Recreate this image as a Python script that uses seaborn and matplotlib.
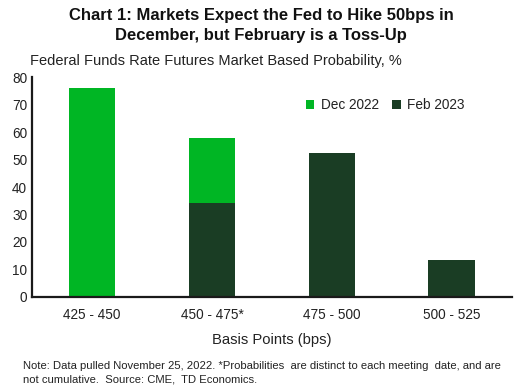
import matplotlib
matplotlib.use("Agg")
import matplotlib.pyplot as plt
import seaborn as sns
import pandas as pd

categories = ["425 - 450", "450 - 475*", "475 - 500", "500 - 525"]
dec_2022 = [76, 58, 0, 0]
feb_2023 = [0, 34, 52.5, 13.5]
series_names = ["Dec 2022", "Feb 2023"]
colors = ["#00B624", "#1A3D24"]

df = pd.DataFrame({
    "cat": categories * 2,
    "val": dec_2022 + feb_2023,
    "series": [series_names[0]] * 4 + [series_names[1]] * 4,
})

sns.set_theme(style="white")
plt.rcParams["font.family"] = ["Liberation Sans", "DejaVu Sans"]

fig = plt.figure(figsize=(5.17, 3.86), dpi=100)
ax = fig.add_axes([0.062, 0.231, 0.928, 0.569])
sns.barplot(data=df, x="cat", y="val", hue="series", dodge=False,
            palette=colors, width=0.39, ax=ax, saturation=1, legend=True,
            linewidth=0, edgecolor="none")

ax.set_ylim(0, 80)
ax.set_yticks(range(0, 81, 10))
ax.set_xlim(-0.5, 3.5)
ax.tick_params(axis="both", labelsize=9.8, colors="#222222", length=0)
ax.tick_params(axis="x", pad=8)
for s in ["top", "right"]:
    ax.spines[s].set_visible(False)
for s in ["left", "bottom"]:
    ax.spines[s].set_color("#1a1a1a")
    ax.spines[s].set_linewidth(1.6)
ax.set_ylabel("")
ax.set_xlabel("Basis Points (bps)", fontsize=10.6, color="#222222", labelpad=8)

leg = ax.legend(loc="upper left", bbox_to_anchor=(0.545, 0.96), ncol=2, frameon=False,
                fontsize=9.8, handlelength=0.6, handleheight=0.6, columnspacing=1.0,
                handletextpad=0.5)
for t in leg.get_texts():
    t.set_color("#222222")

fig.text(0.505, 0.978, "Chart 1: Markets Expect the Fed to Hike 50bps in\nDecember, but February is a Toss-Up",
         ha="center", va="top", fontsize=12, fontweight="bold", color="#111111", linespacing=1.4)
fig.text(0.058, 0.843, "Federal Funds Rate Futures Market Based Probability, %",
         ha="left", va="center", fontsize=10.5, color="#222222")
fig.text(0.045, 0.035, "Note: Data pulled November 25, 2022. *Probabilities  are distinct to each meeting  date, and are\nnot cumulative.  Source: CME,  TD Economics.",
         ha="left", va="center", fontsize=8.1, color="#222222", linespacing=1.4)

fig.savefig("out.png", dpi=100)
